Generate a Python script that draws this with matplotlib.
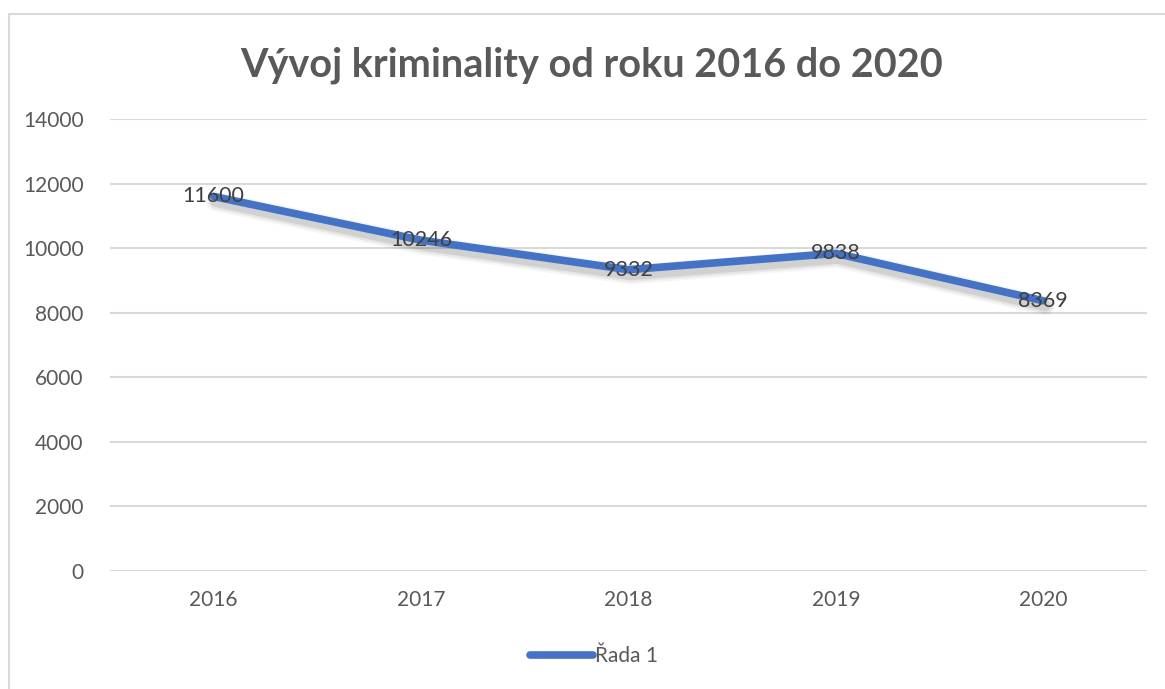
import matplotlib.pyplot as plt
import matplotlib.patheffects as pe
from matplotlib.patches import Rectangle
from matplotlib.lines import Line2D

# chart data
years = ["2016", "2017", "2018", "2019", "2020"]
crimes = [11600, 10246, 9332, 9838, 8369]
y_ticks = [0, 2000, 4000, 6000, 8000, 10000, 12000, 14000]

FONT = ["Lato", "DejaVu Sans"]
GREY = "#595959"
BLUE = "#4472C4"

plt.rcParams["font.family"] = FONT

fig = plt.figure(figsize=(11.65, 6.89), dpi=100)
fig.patches.append(Rectangle((9 / 1165, -0.1), 1.2, 1 - 14 / 689 + 0.1,
                             transform=fig.transFigure, fill=False,
                             edgecolor="#D9D9D9", linewidth=1.5))

ax = fig.add_axes([0.0944, 0.1713, 0.8901, 0.656])
x = list(range(len(years)))

# soft shadow: a few wide, faint copies under the line
shadow = [pe.SimpleLineShadow(offset=(1.5, -3.5), shadow_color="black", alpha=a, linewidth=w)
          for w, a in [(14, 0.04), (11, 0.06), (8, 0.09)]]
ax.plot(x, crimes, color=BLUE, linewidth=5.5, solid_capstyle="round",
        path_effects=shadow + [pe.Normal()])

for xi, v in zip(x, crimes):
    ax.text(xi, v, str(v), ha="center", va="center", fontsize=15.5, color="#404040")

ax.set_xlim(-0.5, len(years) - 0.5)
ax.set_ylim(0, 14000)
ax.set_xticks(x)
ax.set_xticklabels(years)
ax.set_yticks(y_ticks)
ax.tick_params(axis="both", length=0, labelsize=15, colors=GREY)
ax.tick_params(axis="y", pad=19)
ax.tick_params(axis="x", pad=14)
ax.grid(axis="y", color="#D9D9D9", linewidth=1.5)
ax.set_axisbelow(True)
for s in ax.spines.values():
    s.set_visible(False)

fig.text(0.508, 0.905, "Vývoj kriminality od roku 2016 do 2020", ha="center", va="center",
         fontsize=28.5, fontweight="bold", color=GREY)

handle = Line2D([], [], color=BLUE, linewidth=5.5, solid_capstyle="round")
leg = fig.legend([handle], ["Řada 1"], loc="center", bbox_to_anchor=(0.51, 0.048),
                 frameon=False, fontsize=15, handlelength=3.0, handletextpad=0.1)
for t in leg.get_texts():
    t.set_color(GREY)

fig.savefig("out.png", dpi=100)
